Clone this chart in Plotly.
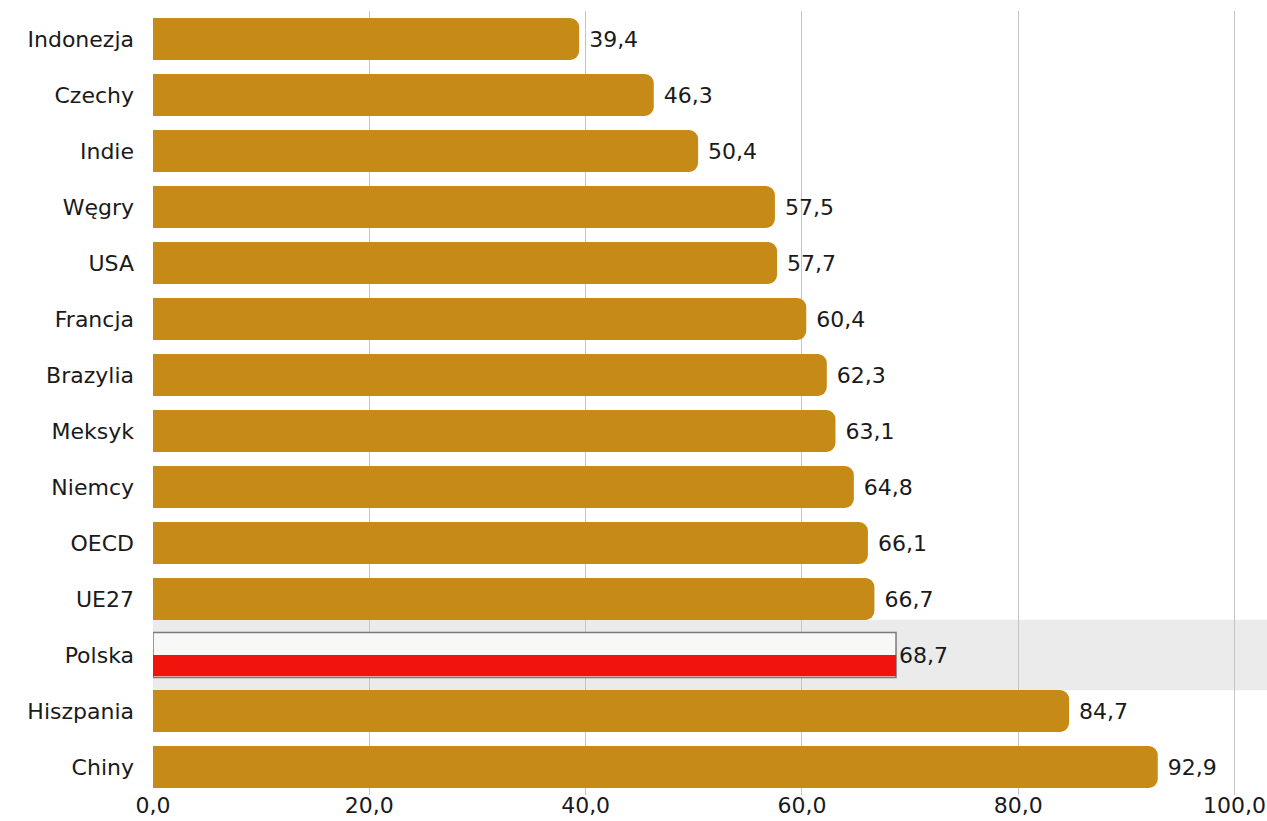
import plotly.graph_objects as go

countries = ["Indonezja", "Czechy", "Indie", "Węgry", "USA", "Francja", "Brazylia",
             "Meksyk", "Niemcy", "OECD", "UE27", "Polska", "Hiszpania", "Chiny"]
values = [39.4, 46.3, 50.4, 57.5, 57.7, 60.4, 62.3, 63.1, 64.8, 66.1, 66.7, 68.7, 84.7, 92.9]
x_ticks = [0, 20, 40, 60, 80, 100]
highlight = "Polska"

GOLD = "#C68A17"
RED = "#F0140C"
FONT = "DejaVu Sans"
FS = 22
TXT = "#1a1a1a"

idx = list(range(len(countries)))
hi = countries.index(highlight)

gold_y = [i for i in idx if i != hi]
gold_x = [values[i] for i in gold_y]

fig = go.Figure()
fig.add_trace(go.Bar(
    orientation="h", y=gold_y, x=gold_x, width=0.75,
    marker=dict(color=GOLD, line=dict(width=0)),
    texttemplate=" %{x:.1f}", textposition="outside",
    textfont=dict(family=FONT, size=FS, color=TXT),
    cliponaxis=False, showlegend=False, hoverinfo="skip",
))
# Polska: white upper half with grey frame, red lower half
fig.add_trace(go.Bar(
    orientation="h", y=[hi], x=[values[hi]], width=0.8, offset=-0.4,
    marker=dict(color="#F8F8F8", line=dict(color="#7a7a7a", width=1.5), cornerradius=0),
    texttemplate="%{x:.1f}", textposition="outside",
    textfont=dict(family=FONT, size=FS, color=TXT),
    cliponaxis=False, showlegend=False, hoverinfo="skip",
))
fig.add_trace(go.Bar(
    orientation="h", y=[hi], x=[values[hi]], width=0.38, offset=0.0,
    marker=dict(color=RED, line=dict(width=0), cornerradius=0),
    showlegend=False, hoverinfo="skip",
))

fig.add_shape(type="rect", xref="paper", x0=0, x1=1, yref="y", y0=hi - 0.63, y1=hi + 0.63,
              fillcolor="#EBEBEB", line=dict(width=0), layer="below")

fig.update_layout(
    width=1267, height=821,
    margin=dict(l=153, r=0, t=11, b=26),
    plot_bgcolor="white", paper_bgcolor="white",
    barmode="overlay", barcornerradius=9,
    separators=",.",
    font=dict(family=FONT, size=FS, color=TXT),
    xaxis=dict(range=[0, 103], tickvals=x_ticks, tickformat=".1f",
               showgrid=True, gridcolor="#C4C4C4", gridwidth=1.3,
               zeroline=False, showline=False, ticks="", automargin=False,
               ticklabelstandoff=-5,
               tickfont=dict(family=FONT, size=FS, color=TXT)),
    yaxis=dict(range=[13.5, -0.5], tickvals=idx, ticktext=countries,
               showgrid=False, zeroline=False, showline=False, ticks="",
               ticklabelstandoff=18, automargin=False,
               tickfont=dict(family=FONT, size=FS, color=TXT)),
)

fig.write_html("out.html")
